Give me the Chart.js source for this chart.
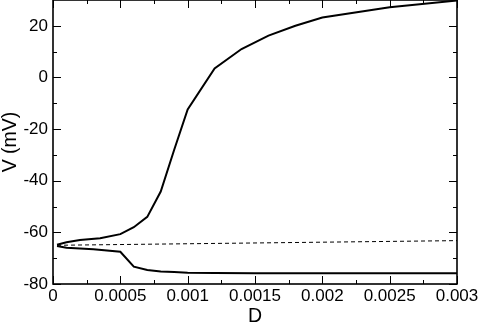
<!DOCTYPE html>
<html>
<head>
<meta charset="utf-8">
<script src="https://cdn.jsdelivr.net/npm/chart.js@4/dist/chart.umd.min.js"></script>
<style>
html,body{margin:0;padding:0;background:#fff;}
#wrap{width:480px;height:322px;position:relative;}
</style>
</head>
<body>
<div id="wrap"><canvas id="c" width="480" height="322"></canvas></div>
<script>
// ---- data ----
const upperD = [0.00003, 0.0001, 0.0002, 0.00035, 0.0005, 0.0006, 0.0007, 0.0008, 0.0009, 0.001, 0.0012, 0.0014, 0.0016, 0.0018, 0.002, 0.0025, 0.003];
const upperV = [-64.8, -63.8, -63.0, -62.3, -60.7, -58.0, -54.0, -44.2, -28.0, -12.4, 3.5, 11.0, 16.2, 20.0, 23.2, 27.2, 29.8];
const lowerD = [0.00003, 0.0001, 0.0003, 0.0005, 0.0006, 0.0007, 0.0008, 0.0009, 0.001, 0.0012, 0.0015, 0.002, 0.003];
const lowerV = [-65.3, -66.0, -66.5, -67.5, -73.3, -74.6, -75.2, -75.4, -75.6, -75.7, -75.8, -75.8, -75.8];
const unstableD = [0.00003, 0.003];
const unstableV = [-65, -63.2];

const xTickValues = [0, 0.0005, 0.001, 0.0015, 0.002, 0.0025, 0.003];
const xTickLabels = ['0', '0.0005', '0.001', '0.0015', '0.002', '0.0025', '0.003'];
const xMinorValues = [0.00025, 0.00075, 0.00125, 0.00175, 0.00225, 0.00275];
const yTickValues = [-80, -60, -40, -20, 0, 20];
const yTickLabels = ['-80', '-60', '-40', '-20', '0', '20'];
const yMinorValues = [-70, -50, -30, -10, 10];

const toPts = (xs, ys) => xs.map((d, i) => ({x: d, y: ys[i]}));

const framePlugin = {
  id: 'frame',
  afterDatasetsDraw(chart) {
    const {ctx, chartArea: {left, right, top, bottom}, scales: {x, y}} = chart;
    ctx.save();
    ctx.strokeStyle = '#000';
    ctx.lineWidth = 1;
    const seg = (x1, y1, x2, y2) => { ctx.beginPath(); ctx.moveTo(x1, y1); ctx.lineTo(x2, y2); ctx.stroke(); };
    xTickValues.forEach(v => { const p = Math.round(x.getPixelForValue(v)) + 0.5; seg(p, bottom, p, bottom - 8); seg(p, top, p, top + 8); });
    xMinorValues.forEach(v => { const p = Math.round(x.getPixelForValue(v)) + 0.5; seg(p, bottom, p, bottom - 4); seg(p, top, p, top + 4); });
    yTickValues.forEach(v => { const p = Math.round(y.getPixelForValue(v)) + 0.5; seg(left, p, left + 8, p); seg(right, p, right - 8, p); });
    yMinorValues.forEach(v => { const p = Math.round(y.getPixelForValue(v)) + 0.5; seg(left, p, left + 4, p); seg(right, p, right - 4, p); });
    ctx.lineWidth = 1.6;
    ctx.strokeRect(left, top, right - left, bottom - top);
    ctx.restore();
  }
};

new Chart(document.getElementById('c'), {
  type: 'line',
  data: {
    datasets: [
      {data: toPts(upperD, upperV), borderColor: '#000', borderWidth: 2, pointRadius: 0, fill: false, tension: 0},
      {data: toPts(lowerD, lowerV), borderColor: '#000', borderWidth: 2, pointRadius: 0, fill: false, tension: 0},
      {data: toPts(unstableD, unstableV), borderColor: '#000', borderWidth: 1, borderDash: [4, 3], pointRadius: 0, fill: false, tension: 0}
    ]
  },
  options: {
    responsive: false,
    animation: false,
    events: [],
    layout: {padding: {left: 0, right: 23, top: 0, bottom: 0}},
    plugins: {legend: {display: false}, tooltip: {enabled: false}},
    scales: {
      x: {
        type: 'linear', min: 0, max: 0.003,
        grid: {display: false, drawTicks: false},
        border: {display: false},
        afterBuildTicks: s => { s.ticks = xTickValues.map(v => ({value: v})); },
        afterFit: s => { s.height = 38; s.paddingLeft = 0; s.paddingRight = 0; },
        ticks: {
          color: '#000', padding: 2, maxRotation: 0, autoSkip: false,
          font: {family: '"Liberation Sans", Arial, sans-serif', size: 17},
          callback: (v, i) => xTickLabels[i]
        },
        title: {display: true, text: 'D', color: '#000', padding: {top: 0, bottom: -6},
          font: {family: '"Liberation Sans", Arial, sans-serif', size: 19.5}}
      },
      y: {
        type: 'linear', min: -80, max: 30,
        grid: {display: false, drawTicks: false},
        border: {display: false},
        afterBuildTicks: s => { s.ticks = yTickValues.map(v => ({value: v})); },
        afterFit: s => { s.width = 53; s.paddingTop = 0; s.paddingBottom = 0; },
        ticks: {
          color: '#000', padding: 5, autoSkip: false,
          font: {family: '"Liberation Sans", Arial, sans-serif', size: 17},
          callback: (v, i) => yTickLabels[i]
        },
        title: {display: true, text: 'V (mV)', color: '#000', padding: {top: -1, bottom: 0},
          font: {family: '"Liberation Sans", Arial, sans-serif', size: 19.5}}
      }
    }
  },
  plugins: [framePlugin]
});
</script>
</body>
</html>
